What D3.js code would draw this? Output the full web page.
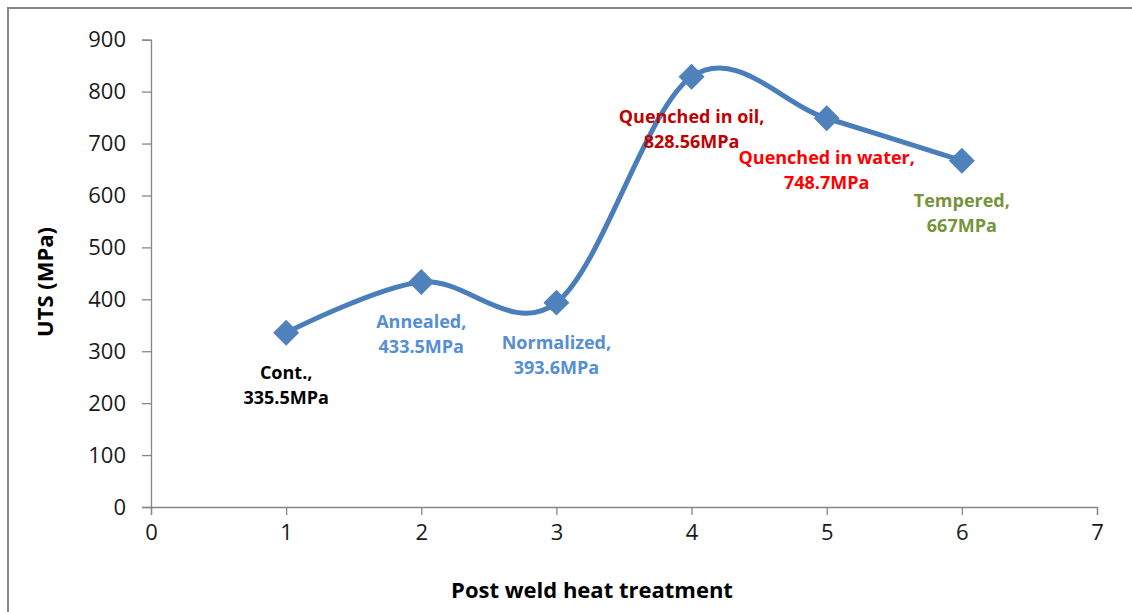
<!DOCTYPE html>
<html><head><meta charset="utf-8">
<script src="https://cdn.jsdelivr.net/npm/d3@7"></script>
<style>body{margin:0;background:#fff}svg{display:block}</style>
</head><body>
<svg id="c" width="1132" height="612"></svg>
<script>
const xValues = [1, 2, 3, 4, 5, 6];
const utsValues = [335.5, 433.5, 393.6, 828.56, 748.7, 667];
const labelLine1 = ["Cont.,", "Annealed,", "Normalized,", "Quenched in oil,", "Quenched in water,", "Tempered,"];
const labelLine2 = ["335.5MPa", "433.5MPa", "393.6MPa", "828.56MPa", "748.7MPa", "667MPa"];
const labelColors = ["#000000", "#558ED5", "#558ED5", "#C00000", "#FF0000", "#77933C"];
const xTicks = [0, 1, 2, 3, 4, 5, 6, 7];
const yTicks = [0, 100, 200, 300, 400, 500, 600, 700, 800, 900];

const font = "'Open Sans', sans-serif";
const svg = d3.select("#c");
const m = {left: 151, right: 1097, top: 39.7, bottom: 507};
const x = d3.scaleLinear().domain([0, 7]).range([m.left, m.right]);
const y = d3.scaleLinear().domain([0, 900]).range([m.bottom, m.top]);

// frame
svg.append("rect").attr("x", 8).attr("y", 8).attr("width", 1140).attr("height", 620)
  .attr("fill", "none").attr("stroke", "#868686").attr("stroke-width", 2);

const axisColor = "#868686";
const gx = svg.append("g").attr("transform", `translate(0,${m.bottom})`)
  .call(d3.axisBottom(x).tickValues(xTicks).tickSize(8).tickPadding(12).tickFormat(d3.format("d")));
const gy = svg.append("g").attr("transform", `translate(${m.left},0)`)
  .call(d3.axisLeft(y).tickValues(yTicks).tickSize(9).tickPadding(16).tickFormat(d3.format("d")));
[gx, gy].forEach(g => {
  g.select(".domain").attr("stroke", axisColor).attr("stroke-width", 1.3);
  g.selectAll(".tick line").attr("stroke", axisColor).attr("stroke-width", 1.3);
  g.selectAll(".tick text").attr("fill", "#1a1a1a").attr("font-family", font).attr("font-size", 22);
});
gx.selectAll(".tick text").attr("dy", "0.6em");

// axis titles
svg.append("text").attr("x", 592).attr("y", 598).attr("text-anchor", "middle")
  .attr("font-family", font).attr("font-weight", "bold").attr("font-size", 22).attr("fill", "#000")
  .text("Post weld heat treatment");
svg.append("text").attr("transform", "translate(53,282) rotate(-90)").attr("text-anchor", "middle")
  .attr("font-family", font).attr("font-weight", "bold").attr("font-size", 22).attr("fill", "#000")
  .text("UTS (MPa)");

const pts = xValues.map((v, i) => [v, utsValues[i]]);
const line = d3.line().x(d => x(d[0])).y(d => y(d[1])).curve(d3.curveCardinal.tension(0));
svg.append("path").attr("d", line(pts)).attr("fill", "none")
  .attr("stroke", "#4A7EBB").attr("stroke-width", 5);

svg.selectAll(".mk").data(pts).join("path").attr("class", "mk")
  .attr("d", d3.symbol(d3.symbolDiamond2, 430))
  .attr("transform", d => `translate(${x(d[0])},${y(d[1])})`)
  .attr("fill", "#4F81BD");

const lab = svg.selectAll(".lab").data(pts).join("text").attr("class", "lab")
  .attr("text-anchor", "middle").attr("font-family", font).attr("font-weight", "bold")
  .attr("font-size", 18).attr("fill", (d, i) => labelColors[i]);
lab.append("tspan").attr("x", d => x(d[0])).attr("y", d => y(d[1]) + 46).text((d, i) => labelLine1[i]);
lab.append("tspan").attr("x", d => x(d[0])).attr("y", d => y(d[1]) + 71).text((d, i) => labelLine2[i]);
</script>
</body></html>
